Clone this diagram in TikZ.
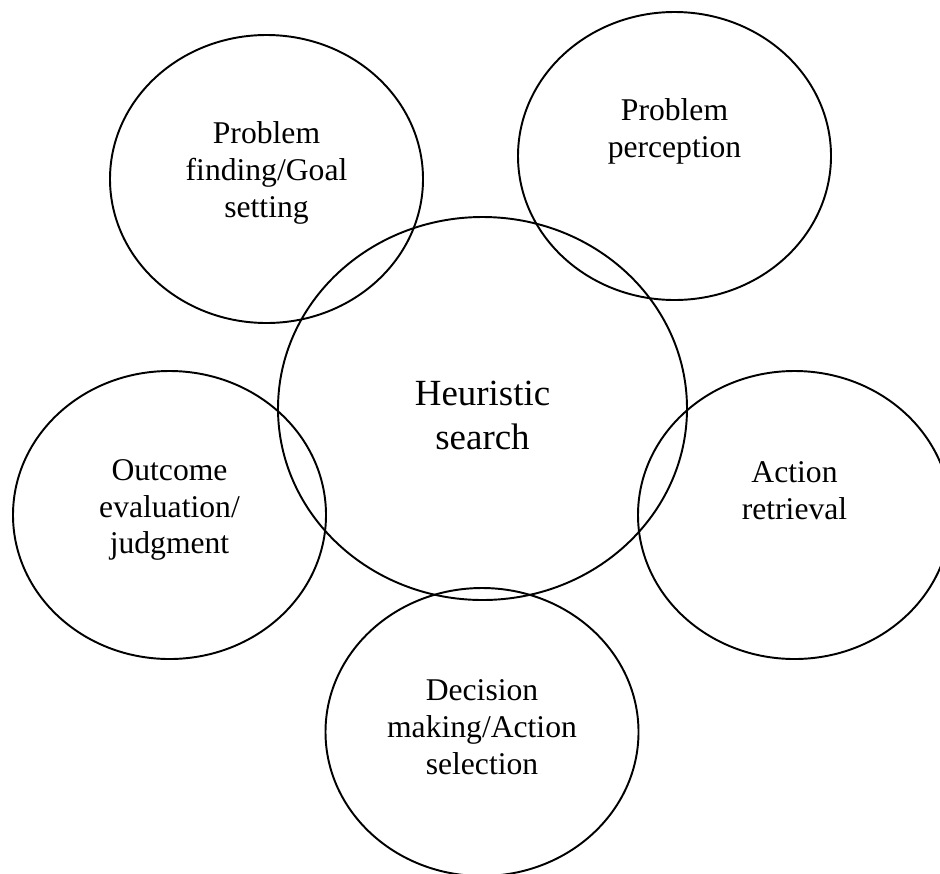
\documentclass[tikz,border=0pt]{standalone}
\usepackage{fontspec}
\setmainfont{Liberation Serif}
\usepackage{tikz}
\usetikzlibrary{shapes.geometric}

\begin{document}
\begin{tikzpicture}[
  bubble/.style={ellipse, draw=black, line width=1.1pt, inner sep=0pt, minimum width=6.26cm, minimum height=5.76cm},
  bigbubble/.style={bubble, minimum width=8.18cm, minimum height=7.66cm},
  label text/.style={align=center, inner sep=0pt, font=\fontsize{18pt}{21pt}\selectfont},
  big text/.style={label text, font=\fontsize{21pt}{25pt}\selectfont}
]
\clip (0,0) rectangle (18.8,-17.46);
\fill[white] (0,0) rectangle (18.8,-17.46);

\node[bigbubble] (heur) at (9.65,-8.17) {};
\node[bubble] (goal) at (5.33,-3.58) {};
\node[bubble] (percep) at (13.49,-3.12) {};
\node[bubble] (outcome) at (3.39,-10.30) {};
\node[bubble] (retr) at (15.89,-10.30) {};
\node[bubble] (decis) at (9.64,-14.64) {};

\node[big text] (heurtxt) at ([yshift=-0.13cm]heur.center) {Heuristic\\search};
\node[label text] (goaltxt) at ([yshift=0.12cm]goal.center) {Problem\\finding/Goal\\setting};
\node[label text] (perceptxt) at ([yshift=0.5cm]percep.center) {Problem\\perception};
\node[label text] (outcometxt) at ([yshift=0.1cm]outcome.center) {Outcome\\evaluation/\\judgment};
\node[label text] (retrtxt) at ([yshift=0.48cm]retr.center) {Action\\retrieval};
\node[label text] (decistxt) at ([yshift=0.1cm]decis.center) {Decision\\making/Action\\selection};
\end{tikzpicture}
\end{document}
